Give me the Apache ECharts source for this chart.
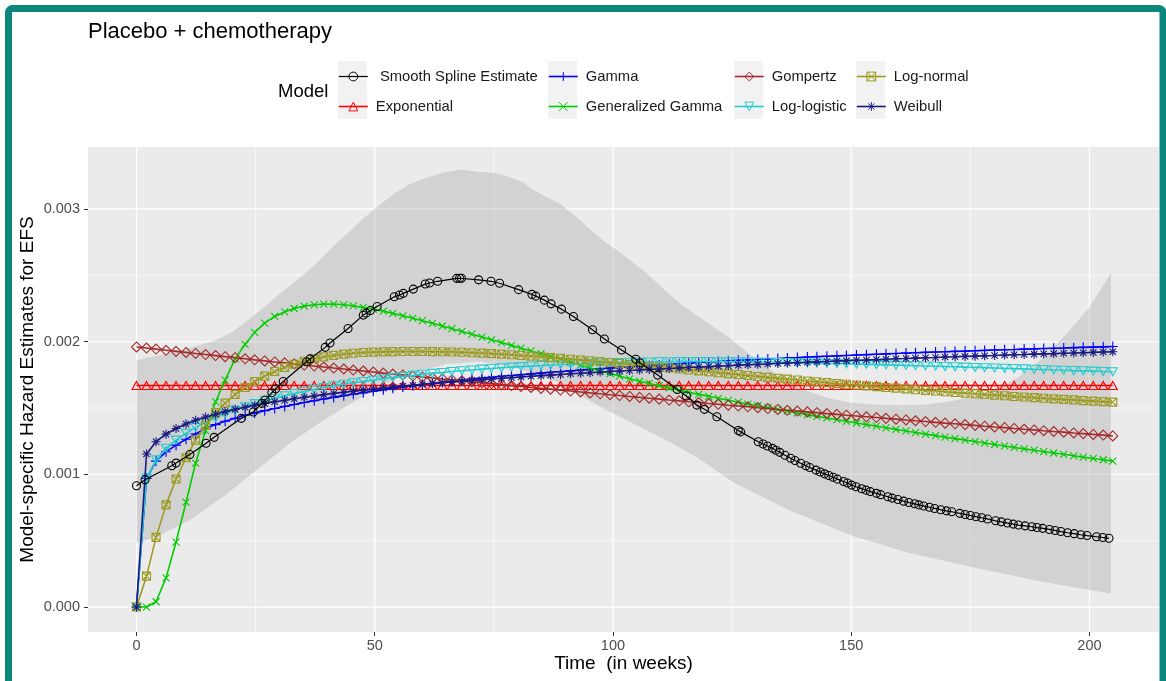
<!DOCTYPE html>
<html><head><meta charset="utf-8">
<script src="https://cdn.jsdelivr.net/npm/echarts@6/dist/echarts.min.js"></script>
<style>html,body{margin:0;padding:0;background:#fff}#chart{width:1166px;height:681px}</style>
</head><body><div id="chart"></div>
<script>
// ---- time grid of the parametric model curves (weeks) ----
const weeks = [0,2.1,4.1,6.2,8.3,10.4,12.4,14.5,16.6,18.6,20.7,22.8,24.8,26.9,29,31.1,33.1,35.2,37.3,39.3,41.4,43.5,45.5,47.6,49.7,51.8,53.8,55.9,58,60,62.1,64.2,66.2,68.3,70.4,72.5,74.5,76.6,78.7,80.7,82.8,84.9,86.9,89,91.1,93.2,95.2,97.3,99.4,101.4,103.5,105.6,107.6,109.7,111.8,113.9,115.9,118,120.1,122.1,124.2,126.3,128.3,130.4,132.5,134.6,136.6,138.7,140.8,142.8,144.9,147,149,151.1,153.2,155.3,157.3,159.4,161.5,163.5,165.6,167.7,169.7,171.8,173.9,176,178,180.1,182.2,184.2,186.3,188.4,190.4,192.5,194.6,196.7,198.7,200.8,202.9,204.9];

const exponential = [1.67e-3,1.67e-3,1.67e-3,1.67e-3,1.67e-3,1.67e-3,1.67e-3,1.67e-3,1.67e-3,1.67e-3,1.67e-3,1.67e-3,1.67e-3,1.67e-3,1.67e-3,1.67e-3,1.67e-3,1.67e-3,1.67e-3,1.67e-3,1.67e-3,1.67e-3,1.67e-3,1.67e-3,1.67e-3,1.67e-3,1.67e-3,1.67e-3,1.67e-3,1.67e-3,1.67e-3,1.67e-3,1.67e-3,1.67e-3,1.67e-3,1.67e-3,1.67e-3,1.67e-3,1.67e-3,1.67e-3,1.67e-3,1.67e-3,1.67e-3,1.67e-3,1.67e-3,1.67e-3,1.67e-3,1.67e-3,1.67e-3,1.67e-3,1.67e-3,1.67e-3,1.67e-3,1.67e-3,1.67e-3,1.67e-3,1.67e-3,1.67e-3,1.67e-3,1.67e-3,1.67e-3,1.67e-3,1.67e-3,1.67e-3,1.67e-3,1.67e-3,1.67e-3,1.67e-3,1.67e-3,1.67e-3,1.67e-3,1.67e-3,1.67e-3,1.67e-3,1.67e-3,1.67e-3,1.67e-3,1.67e-3,1.67e-3,1.67e-3,1.67e-3,1.67e-3,1.67e-3,1.67e-3,1.67e-3,1.67e-3,1.67e-3,1.67e-3,1.67e-3,1.67e-3,1.67e-3,1.67e-3,1.67e-3,1.67e-3,1.67e-3,1.67e-3,1.67e-3,1.67e-3,1.67e-3,1.67e-3];

const gamma = [0,0.97e-3,1.10e-3,1.17e-3,1.22e-3,1.265e-3,1.305e-3,1.345e-3,1.375e-3,1.40e-3,
1.423e-3,1.445e-3,1.463e-3,1.48e-3,1.496e-3,1.512e-3,1.527e-3,1.541e-3,1.555e-3,1.568e-3,
1.58e-3,1.592e-3,1.604e-3,1.615e-3,1.627e-3,1.638e-3,1.648e-3,1.658e-3,1.668e-3,1.677e-3,
1.686e-3,1.694e-3,1.702e-3,1.71e-3,1.718e-3,1.725e-3,1.732e-3,1.739e-3,1.745e-3,1.751e-3,
1.757e-3,1.763e-3,1.769e-3,1.775e-3,1.78e-3,1.786e-3,1.791e-3,1.796e-3,1.801e-3,1.806e-3,
1.811e-3,1.816e-3,1.821e-3,1.825e-3,1.83e-3,1.834e-3,1.838e-3,1.843e-3,1.847e-3,1.851e-3,
1.855e-3,1.859e-3,1.863e-3,1.866e-3,1.87e-3,1.873e-3,1.877e-3,1.88e-3,1.884e-3,1.887e-3,
1.89e-3,1.893e-3,1.896e-3,1.899e-3,1.902e-3,1.905e-3,1.908e-3,1.911e-3,1.914e-3,1.916e-3,
1.919e-3,1.922e-3,1.924e-3,1.927e-3,1.929e-3,1.932e-3,1.934e-3,1.937e-3,1.939e-3,1.941e-3,
1.944e-3,1.946e-3,1.948e-3,1.95e-3,1.952e-3,1.955e-3,1.957e-3,1.959e-3,1.961e-3,1.963e-3];

const generalizedGamma = [0,0,0.04e-3,0.22e-3,0.49e-3,0.79e-3,1.085e-3,1.33e-3,1.547e-3,1.71e-3,
1.87e-3,1.98e-3,2.07e-3,2.14e-3,2.19e-3,2.225e-3,2.25e-3,2.268e-3,2.278e-3,2.283e-3,
2.283e-3,2.278e-3,2.27e-3,2.258e-3,2.245e-3,2.23e-3,2.213e-3,2.195e-3,2.177e-3,2.158e-3,
2.138e-3,2.118e-3,2.098e-3,2.077e-3,2.056e-3,2.035e-3,2.014e-3,1.993e-3,1.972e-3,1.951e-3,
1.93e-3,1.909e-3,1.889e-3,1.868e-3,1.845e-3,1.823e-3,1.801e-3,1.78e-3,1.76e-3,1.74e-3,
1.72e-3,1.702e-3,1.685e-3,1.668e-3,1.651e-3,1.635e-3,1.619e-3,1.603e-3,1.588e-3,1.573e-3,
1.558e-3,1.544e-3,1.530e-3,1.517e-3,1.503e-3,1.490e-3,1.477e-3,1.463e-3,1.450e-3,1.437e-3,
1.425e-3,1.412e-3,1.400e-3,1.387e-3,1.375e-3,1.363e-3,1.351e-3,1.339e-3,1.327e-3,1.315e-3,
1.303e-3,1.292e-3,1.280e-3,1.269e-3,1.258e-3,1.247e-3,1.236e-3,1.225e-3,1.214e-3,1.203e-3,
1.192e-3,1.182e-3,1.171e-3,1.161e-3,1.151e-3,1.140e-3,1.130e-3,1.120e-3,1.110e-3,1.100e-3];

const gompertz = [1.960e-3,1.952e-3,1.944e-3,1.935e-3,1.927e-3,1.919e-3,1.911e-3,1.903e-3,1.895e-3,1.887e-3,
1.879e-3,1.871e-3,1.863e-3,1.855e-3,1.847e-3,1.840e-3,1.832e-3,1.824e-3,1.816e-3,1.809e-3,
1.801e-3,1.794e-3,1.786e-3,1.779e-3,1.771e-3,1.763e-3,1.756e-3,1.749e-3,1.741e-3,1.734e-3,
1.727e-3,1.719e-3,1.712e-3,1.705e-3,1.698e-3,1.690e-3,1.684e-3,1.676e-3,1.669e-3,1.662e-3,
1.655e-3,1.648e-3,1.642e-3,1.635e-3,1.628e-3,1.621e-3,1.614e-3,1.607e-3,1.600e-3,1.594e-3,
1.587e-3,1.580e-3,1.574e-3,1.567e-3,1.560e-3,1.554e-3,1.547e-3,1.541e-3,1.534e-3,1.528e-3,
1.521e-3,1.515e-3,1.509e-3,1.502e-3,1.496e-3,1.489e-3,1.483e-3,1.477e-3,1.471e-3,1.465e-3,
1.458e-3,1.452e-3,1.446e-3,1.440e-3,1.434e-3,1.428e-3,1.422e-3,1.416e-3,1.410e-3,1.404e-3,
1.398e-3,1.392e-3,1.386e-3,1.381e-3,1.375e-3,1.369e-3,1.363e-3,1.357e-3,1.352e-3,1.346e-3,
1.340e-3,1.335e-3,1.329e-3,1.323e-3,1.318e-3,1.312e-3,1.307e-3,1.301e-3,1.296e-3,1.290e-3];

const logLogistic = [0,0.97e-3,1.11e-3,1.196e-3,1.258e-3,1.309e-3,1.354e-3,1.392e-3,1.426e-3,1.457e-3,
1.485e-3,1.51e-3,1.533e-3,1.554e-3,1.574e-3,1.592e-3,1.609e-3,1.625e-3,1.64e-3,1.654e-3,
1.667e-3,1.679e-3,1.69e-3,1.70e-3,1.71e-3,1.72e-3,1.729e-3,1.738e-3,1.746e-3,1.754e-3,
1.761e-3,1.768e-3,1.775e-3,1.781e-3,1.787e-3,1.793e-3,1.798e-3,1.803e-3,1.808e-3,1.812e-3,
1.816e-3,1.82e-3,1.824e-3,1.828e-3,1.831e-3,1.834e-3,1.837e-3,1.839e-3,1.841e-3,1.843e-3,
1.845e-3,1.846e-3,1.847e-3,1.848e-3,1.849e-3,1.85e-3,1.85e-3,1.85e-3,1.85e-3,1.849e-3,
1.849e-3,1.848e-3,1.847e-3,1.846e-3,1.845e-3,1.844e-3,1.843e-3,1.841e-3,1.84e-3,1.838e-3,
1.836e-3,1.835e-3,1.833e-3,1.831e-3,1.829e-3,1.827e-3,1.825e-3,1.823e-3,1.821e-3,1.819e-3,
1.817e-3,1.815e-3,1.813e-3,1.811e-3,1.808e-3,1.806e-3,1.804e-3,1.802e-3,1.799e-3,1.797e-3,
1.795e-3,1.792e-3,1.79e-3,1.787e-3,1.785e-3,1.782e-3,1.78e-3,1.778e-3,1.775e-3,1.773e-3];

const logNormal = [0,0.233e-3,0.525e-3,0.77e-3,0.965e-3,1.125e-3,1.258e-3,1.37e-3,1.465e-3,1.537e-3,
1.603e-3,1.655e-3,1.70e-3,1.74e-3,1.775e-3,1.805e-3,1.83e-3,1.852e-3,1.87e-3,1.885e-3,
1.897e-3,1.906e-3,1.913e-3,1.918e-3,1.921e-3,1.923e-3,1.925e-3,1.926e-3,1.926e-3,1.926e-3,
1.925e-3,1.924e-3,1.922e-3,1.92e-3,1.917e-3,1.914e-3,1.91e-3,1.906e-3,1.901e-3,1.896e-3,
1.891e-3,1.886e-3,1.88e-3,1.874e-3,1.868e-3,1.862e-3,1.856e-3,1.85e-3,1.843e-3,1.836e-3,
1.829e-3,1.822e-3,1.815e-3,1.808e-3,1.801e-3,1.794e-3,1.787e-3,1.78e-3,1.773e-3,1.766e-3,
1.759e-3,1.752e-3,1.745e-3,1.738e-3,1.731e-3,1.724e-3,1.718e-3,1.711e-3,1.704e-3,1.698e-3,
1.691e-3,1.685e-3,1.679e-3,1.673e-3,1.667e-3,1.661e-3,1.655e-3,1.65e-3,1.644e-3,1.638e-3,
1.633e-3,1.628e-3,1.622e-3,1.617e-3,1.612e-3,1.607e-3,1.602e-3,1.597e-3,1.592e-3,1.587e-3,
1.583e-3,1.578e-3,1.574e-3,1.569e-3,1.565e-3,1.561e-3,1.556e-3,1.552e-3,1.548e-3,1.544e-3];

const weibull = [0,1.153e-3,1.246e-3,1.303e-3,1.346e-3,1.379e-3,1.408e-3,1.432e-3,1.453e-3,1.473e-3,
1.490e-3,1.506e-3,1.521e-3,1.534e-3,1.547e-3,1.559e-3,1.570e-3,1.581e-3,1.591e-3,1.601e-3,
1.610e-3,1.619e-3,1.627e-3,1.635e-3,1.643e-3,1.650e-3,1.658e-3,1.665e-3,1.671e-3,1.678e-3,
1.684e-3,1.690e-3,1.696e-3,1.702e-3,1.708e-3,1.713e-3,1.719e-3,1.724e-3,1.729e-3,1.734e-3,
1.739e-3,1.744e-3,1.748e-3,1.753e-3,1.758e-3,1.762e-3,1.766e-3,1.771e-3,1.775e-3,1.779e-3,
1.783e-3,1.787e-3,1.791e-3,1.794e-3,1.798e-3,1.802e-3,1.805e-3,1.809e-3,1.812e-3,1.816e-3,
1.819e-3,1.823e-3,1.826e-3,1.829e-3,1.832e-3,1.836e-3,1.839e-3,1.842e-3,1.845e-3,1.848e-3,
1.851e-3,1.854e-3,1.857e-3,1.860e-3,1.862e-3,1.865e-3,1.868e-3,1.871e-3,1.873e-3,1.876e-3,
1.879e-3,1.881e-3,1.884e-3,1.886e-3,1.889e-3,1.891e-3,1.894e-3,1.896e-3,1.899e-3,1.901e-3,
1.903e-3,1.906e-3,1.908e-3,1.910e-3,1.913e-3,1.915e-3,1.917e-3,1.919e-3,1.922e-3,1.924e-3];

// ---- smooth spline estimate (irregular time points) ----
const splineWeeks = [0,1.8,7.4,8.3,11.2,14.6,16.3,22.0,24.5,26.3,27.0,28.4,29.2,30.8,35.7,36.4,39.6,40.6,44.4,47.6,48.2,49.1,50.5,54.1,55.2,56.0,58.1,60.6,61.5,63.2,67.2,67.8,68.2,71.8,74.4,76.2,80.2,83.0,83.8,85.6,87.0,89.2,91.7,95.7,98.2,101.8,104.8,105.7,109.4,113.5,115.4,117.6,119.2,121.8,126.3,126.8,130.5,131.5,132.4,133.5,134.2,135.0,136.1,137.3,138.2,139.4,140.5,141.3,142.6,143.5,144.4,145.3,146.2,147.1,148.4,149.2,150.1,151.0,152.2,153.1,154.0,155.3,156.2,157.7,158.6,159.8,161.0,162.1,163.3,164.2,165.2,166.4,167.5,168.8,170.0,171.1,172.8,173.9,175.0,176.2,177.4,178.6,180.3,181.5,182.8,184.0,185.1,186.5,187.9,189.0,190.2,191.6,192.8,194.0,195.4,196.8,198.2,199.5,201.5,202.8,204.1];
const splineHazard = [0.914e-3,0.96e-3,1.065e-3,1.085e-3,1.15e-3,1.234e-3,1.279e-3,1.422e-3,1.47e-3,1.535e-3,1.56e-3,1.615e-3,1.645e-3,1.70e-3,1.849e-3,1.87e-3,1.957e-3,1.99e-3,2.099e-3,2.20e-3,2.215e-3,2.235e-3,2.265e-3,2.338e-3,2.352e-3,2.364e-3,2.396e-3,2.434e-3,2.442e-3,2.455e-3,2.477e-3,2.478e-3,2.478e-3,2.466e-3,2.455e-3,2.44e-3,2.392e-3,2.356e-3,2.343e-3,2.313e-3,2.285e-3,2.245e-3,2.19e-3,2.09e-3,2.02e-3,1.937e-3,1.867e-3,1.84e-3,1.748e-3,1.64e-3,1.59e-3,1.522e-3,1.49e-3,1.434e-3,1.33e-3,1.32e-3,1.246e-3,1.229e-3,1.214e-3,1.196e-3,1.182e-3,1.166e-3,1.144e-3,1.121e-3,1.105e-3,1.084e-3,1.065e-3,1.052e-3,1.032e-3,1.018e-3,1.004e-3,0.991e-3,0.978e-3,0.964e-3,0.946e-3,0.935e-3,0.919e-3,0.907e-3,0.892e-3,0.881e-3,0.87e-3,0.857e-3,0.847e-3,0.831e-3,0.821e-3,0.81e-3,0.798e-3,0.788e-3,0.778e-3,0.77e-3,0.761e-3,0.752e-3,0.743e-3,0.733e-3,0.725e-3,0.718e-3,0.706e-3,0.698e-3,0.69e-3,0.681e-3,0.673e-3,0.664e-3,0.65e-3,0.642e-3,0.633e-3,0.625e-3,0.618e-3,0.612e-3,0.605e-3,0.599e-3,0.593e-3,0.585e-3,0.577e-3,0.569e-3,0.56e-3,0.553e-3,0.545e-3,0.539e-3,0.53e-3,0.524e-3,0.518e-3];

// ---- confidence band of the spline ----
const bandUpperWeeks = [0,5,10,16.6,20,23,26,30,34.6,38,41.9,45,47.6,51,54.1,57,61,64.5,68.2,71.5,75,78,80.9,83.3,86,88.8,92,95.2,98,102.2,107.1,110.5,114,117.5,121,124,126.7,130,135,140,145,150,155,160,165,170,175,180,185,190,195,200,204.5];
const bandUpper = [1.86e-3,1.90e-3,1.94e-3,2.01e-3,2.07e-3,2.15e-3,2.238e-3,2.36e-3,2.489e-3,2.60e-3,2.74e-3,2.84e-3,2.929e-3,3.03e-3,3.117e-3,3.18e-3,3.238e-3,3.275e-3,3.298e-3,3.28e-3,3.273e-3,3.245e-3,3.205e-3,3.145e-3,3.09e-3,3.042e-3,2.95e-3,2.845e-3,2.76e-3,2.653e-3,2.515e-3,2.40e-3,2.289e-3,2.20e-3,2.112e-3,2.04e-3,1.962e-3,1.87e-3,1.74e-3,1.64e-3,1.575e-3,1.54e-3,1.525e-3,1.52e-3,1.525e-3,1.545e-3,1.58e-3,1.64e-3,1.73e-3,1.87e-3,2.05e-3,2.26e-3,2.515e-3];
const bandLowerWeeks = [0,4.2,11.2,18.2,25.2,32.2,39.3,46.2,52,58,65,72,80,88,97.3,105,112.4,118,125.2,137,150,162,175,190,204.5];
const bandLower = [0.48e-3,0.53e-3,0.656e-3,0.831e-3,1.032e-3,1.234e-3,1.409e-3,1.56e-3,1.68e-3,1.77e-3,1.83e-3,1.85e-3,1.80e-3,1.70e-3,1.51e-3,1.37e-3,1.234e-3,1.12e-3,0.94e-3,0.73e-3,0.54e-3,0.41e-3,0.304e-3,0.19e-3,0.103e-3];

// ---- axes ----
const xTicks = [0, 50, 100, 150, 200];
const xMinorTicks = [25, 75, 125, 175];
const yTicks = [0, 0.001, 0.002, 0.003];
const yMinorTicks = [0.0005, 0.0015, 0.0025];
const X_MIN = -10.18, X_MAX = 214.6, Y_MIN = -0.000188, Y_MAX = 0.003467;

const FONT = 'Liberation Sans, Arial, sans-serif';

const P_PLUS = 'path://M5,0L5,10M0,5L10,5';
const P_CROSS = 'path://M0,0L10,10M0,10L10,0';
const P_TRI_UP = 'path://M5,0L10,8.66L0,8.66Z';
const P_TRI_DOWN = 'path://M0,0L10,0L5,8.66Z';
const P_DIAMOND = 'path://M5,0L10,5L5,10L0,5Z';
const P_SQCROSS = 'path://M0,0L10,0L10,10L0,10ZM0,0L10,10M0,10L10,0';
const P_STAR = 'path://M5,0L5,10M0,5L10,5M1.5,1.5L8.5,8.5M1.5,8.5L8.5,1.5';

const models = [
  {name: 'Exponential', x: weeks, y: exponential, color: '#FF0000', symbol: P_TRI_UP, size: [9, 8]},
  {name: 'Gamma', x: weeks, y: gamma, color: '#0000FF', symbol: P_PLUS, size: [10, 10]},
  {name: 'Generalized Gamma', x: weeks, y: generalizedGamma, color: '#00CC00', symbol: P_CROSS, size: [7, 7]},
  {name: 'Gompertz', x: weeks, y: gompertz, color: '#A52A2A', symbol: P_DIAMOND, size: [10, 10]},
  {name: 'Log-logistic', x: weeks, y: logLogistic, color: '#22CCCF', symbol: P_TRI_DOWN, size: [9, 8]},
  {name: 'Log-normal', x: weeks, y: logNormal, color: '#9B9B22', symbol: P_SQCROSS, size: [8, 8]},
  {name: 'Weibull', x: weeks, y: weibull, color: '#1A1A80', symbol: P_STAR, size: [9, 9]},
  {name: ' Smooth Spline Estimate', x: splineWeeks, y: splineHazard, color: '#000000', symbol: 'circle', size: [8, 8], lw: 1.2}
];

const gridLineData = []
  .concat(xTicks.map(v => [v, 0, 0]))
  .concat(xMinorTicks.map(v => [v, 0, 1]))
  .concat(yTicks.map(v => [0, v, 2]))
  .concat(yMinorTicks.map(v => [0, v, 3]));

const series = [];
series.push({
  type: 'custom', name: 'grid', silent: true, z: 1,
  data: gridLineData,
  renderItem: (params, api) => {
    const kind = api.value(2);
    let p1, p2;
    if (kind < 2) { p1 = api.coord([api.value(0), Y_MIN]); p2 = api.coord([api.value(0), Y_MAX]); }
    else { p1 = api.coord([X_MIN, api.value(1)]); p2 = api.coord([X_MAX, api.value(1)]); }
    return {type: 'line', shape: {x1: p1[0], y1: p1[1], x2: p2[0], y2: p2[1]},
      style: {stroke: '#FFFFFF', lineWidth: (kind % 2 === 0) ? 1.3 : 0.6}};
  }
});
series.push({
  type: 'custom', name: 'band', silent: true, z: 2,
  data: [[0, 0]],
  renderItem: (params, api) => {
    const pts = [];
    bandUpperWeeks.forEach((w, i) => pts.push(api.coord([w, bandUpper[i]])));
    for (let i = bandLowerWeeks.length - 1; i >= 0; i--) pts.push(api.coord([bandLowerWeeks[i], bandLower[i]]));
    return {type: 'polygon', shape: {points: pts}, style: {fill: 'rgba(165,165,165,0.36)'}};
  }
});
models.forEach((m, k) => {
  series.push({
    type: 'line', name: m.name, z: 3 + k,
    data: m.x.map((t, i) => [t, m.y[i]]),
    color: m.color,
    symbol: m.symbol, symbolSize: m.size, showAllSymbol: true,
    lineStyle: {color: m.color, width: m.lw || 1.6},
    itemStyle: {color: 'rgba(0,0,0,0)', borderColor: m.color, borderWidth: 1.1},
    emphasis: {disabled: true}
  });
});

function legendCol(names, left) {
  return {
    left: left, top: 69, orient: 'vertical', padding: 0,
    itemWidth: 29, itemHeight: 11, itemGap: 15, selectedMode: false,
    textStyle: {fontSize: 14.8, fontFamily: FONT, color: '#1A1A1A', lineHeight: 14, padding: [0, 0, 0, 3]},
    data: names.map(n => {
      const m = models.find(mm => mm.name === n);
      return {name: n, itemStyle: {color: 'rgba(0,0,0,0)', borderColor: m.color, borderWidth: 1},
        lineStyle: {color: m.color, width: m.lw || 1.6}};
    })
  };
}

const option = {
  animation: false,
  backgroundColor: '#FFFFFF',
  title: {text: 'Placebo + chemotherapy', left: 88, top: 21, padding: 0,
    textStyle: {fontSize: 22, fontWeight: 'normal', color: '#000000', fontFamily: FONT}},
  graphic: [
    {type: 'rect', z: 100, shape: {x: 8.5, y: 8.5, width: 1154.5, height: 720, r: 4},
      style: {fill: 'none', stroke: '#0B877D', lineWidth: 7}},
    {type: 'rect', z: 0, shape: {x: 338, y: 61, width: 29, height: 58}, style: {fill: '#F2F2F2'}},
    {type: 'rect', z: 0, shape: {x: 548, y: 61, width: 29, height: 58}, style: {fill: '#F2F2F2'}},
    {type: 'rect', z: 0, shape: {x: 734, y: 61, width: 29, height: 58}, style: {fill: '#F2F2F2'}},
    {type: 'rect', z: 0, shape: {x: 856, y: 61, width: 29, height: 58}, style: {fill: '#F2F2F2'}},
    {type: 'text', z: 1, style: {text: 'Model', x: 278, y: 92, verticalAlign: 'middle',
      font: '18.5px ' + FONT, fill: '#000000'}}
  ],
  legend: [
    legendCol([' Smooth Spline Estimate', 'Exponential'], 338),
    legendCol(['Gamma', 'Generalized Gamma'], 548),
    legendCol(['Gompertz', 'Log-logistic'], 734),
    legendCol(['Log-normal', 'Weibull'], 856)
  ],
  grid: {left: 88, top: 147, width: 1071, height: 485, show: true, backgroundColor: '#EBEBEB', borderWidth: 0, containLabel: false},
  xAxis: {
    type: 'value', min: X_MIN, max: X_MAX,
    name: 'Time  (in weeks)', nameLocation: 'middle', nameGap: 22, nameMoveOverlap: false,
    nameTextStyle: {fontSize: 19, color: '#000000', fontFamily: FONT},
    axisLine: {show: false, onZero: false},
    axisTick: {show: true, length: 4, lineStyle: {color: '#333333'}, customValues: xTicks},
    axisLabel: {customValues: xTicks, fontSize: 14.5, color: '#4D4D4D', fontFamily: FONT, margin: 6},
    splitLine: {show: false}
  },
  yAxis: {
    type: 'value', min: Y_MIN, max: Y_MAX,
    name: 'Model-specific Hazard Estimates for EFS', nameLocation: 'middle', nameGap: 51, nameMoveOverlap: false,
    nameTextStyle: {fontSize: 19, color: '#000000', fontFamily: FONT},
    axisLine: {show: false, onZero: false},
    axisTick: {show: true, length: 4, lineStyle: {color: '#333333'}, customValues: yTicks},
    axisLabel: {customValues: yTicks, fontSize: 14.5, color: '#4D4D4D', fontFamily: FONT, margin: 8,
      formatter: v => v.toFixed(3)},
    splitLine: {show: false}
  },
  series: series
};

const chart = echarts.init(document.getElementById('chart'));
chart.setOption(option);
</script></body></html>
